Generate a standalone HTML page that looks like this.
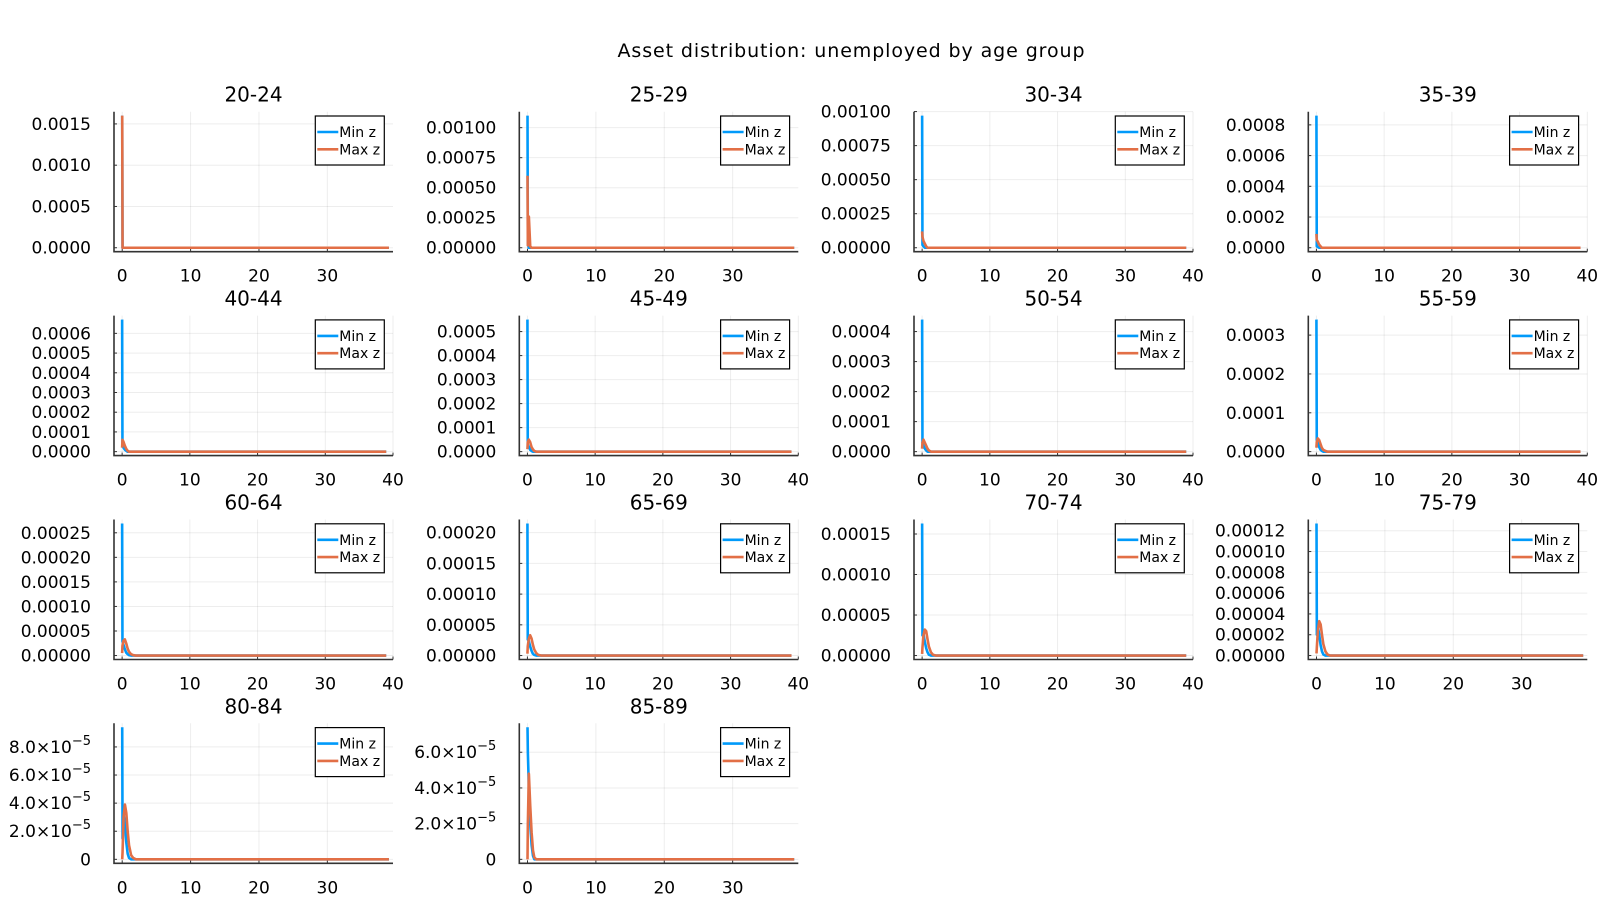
<!DOCTYPE html>
<html><head><meta charset="utf-8"><style>
html,body{margin:0;padding:0;background:#fff;}
svg{display:block;font-family:"DejaVu Sans","Liberation Sans",sans-serif;}
</style></head><body>
<svg id="fig" width="1600" height="900" viewBox="0 0 1600 900" xmlns="http://www.w3.org/2000/svg">
<rect width="1600" height="900" fill="#fff"/>
<text x="851" y="57" text-anchor="middle" font-size="19" textLength="467" fill="#000">Asset distribution: unemployed by age group</text>
</svg>
<script>
const xGrid = [0,0.05,0.2,0.4,0.6,0.8,1.0,1.3,1.6,2,3,5,10,20,30,39];
const panelTitles = ["20-24","25-29","30-34","35-39","40-44","45-49","50-54","55-59","60-64","65-69","70-74","75-79","80-84","85-89"];
const minZ = [
 [0.0016,0,0,0,0,0,0,0,0,0,0,0,0,0,0,0],
 [0.0011,0.00003,0,0,0,0,0,0,0,0,0,0,0,0,0,0],
 [0.00097,0.00002,0.00001,0,0,0,0,0,0,0,0,0,0,0,0,0],
 [0.00086,0.00001,0.000005,0,0,0,0,0,0,0,0,0,0,0,0,0],
 [0.00067,0.00003,0.00002,0.00001,0.000005,0,0,0,0,0,0,0,0,0,0,0],
 [0.00055,0.00003,0.00002,0.000008,0.000003,0,0,0,0,0,0,0,0,0,0,0],
 [0.00044,0.00003,0.00002,0.00001,0.000004,0,0,0,0,0,0,0,0,0,0,0],
 [0.00034,0.00003,0.000022,0.000012,0.000005,0.000002,0,0,0,0,0,0,0,0,0,0],
 [0.000269,0.000029,0.000022,0.000013,0.000006,0.000003,0.000001,0,0,0,0,0,0,0,0,0],
 [0.000215,0.000026,0.000024,0.000015,0.000008,0.000003,0.000001,0,0,0,0,0,0,0,0,0],
 [0.000163,0.000025,0.000026,0.000017,0.000009,0.000004,0.000001,0,0,0,0,0,0,0,0,0],
 [0.000127,0.00002,0.000028,0.00002,0.00001,0.000004,0.000001,0,0,0,0,0,0,0,0,0],
 [0.000094,0.000015,0.000033,0.000025,0.000012,0.000004,0.000001,0,0,0,0,0,0,0,0,0],
 [0.000074,0.00006,0.00004,0.00002,0.000008,0.000002,0,0,0,0,0,0,0,0,0,0]
];
const maxZ = [
 [0.0016,0,0,0,0,0,0,0,0,0,0,0,0,0,0,0],
 [0.0006,0.00002,0.00026,0.00001,0,0,0,0,0,0,0,0,0,0,0,0],
 [0.00012,0.00008,0.00005,0.00003,0.00001,0,0,0,0,0,0,0,0,0,0,0],
 [0.00009,0.00005,0.00004,0.00002,0.00001,0,0,0,0,0,0,0,0,0,0,0],
 [0.00002,0.00006,0.00005,0.00003,0.000015,0.000005,0,0,0,0,0,0,0,0,0,0],
 [0.00001,0.00004,0.00005,0.00004,0.00002,0.00001,0.000003,0,0,0,0,0,0,0,0,0],
 [0.00001,0.00003,0.00004,0.00003,0.00002,0.00001,0.000004,0,0,0,0,0,0,0,0,0],
 [0.00001,0.000025,0.000034,0.00003,0.00002,0.00001,0.000005,0.000002,0,0,0,0,0,0,0,0],
 [0.000005,0.00002,0.00003,0.000033,0.000025,0.000015,0.000008,0.000003,0.000001,0,0,0,0,0,0,0],
 [0.000003,0.000015,0.000027,0.000033,0.000028,0.000018,0.00001,0.000004,0.000001,0,0,0,0,0,0,0],
 [0.000002,0.00001,0.000025,0.000032,0.00003,0.00002,0.000011,0.000004,0.000001,0,0,0,0,0,0,0],
 [0.000002,0.000008,0.000024,0.000033,0.00003,0.00002,0.000011,0.000004,0.000001,0,0,0,0,0,0,0],
 [0,0.000005,0.00003,0.000039,0.000033,0.00002,0.00001,0.000003,0.000001,0,0,0,0,0,0,0],
 [0,0.00002,0.000048,0.00003,0.000015,0.000005,0.000001,0,0,0,0,0,0,0,0,0]
];
const yTickValues = [
 [0,0.0005,0.001,0.0015],
 [0,0.00025,0.0005,0.00075,0.001],
 [0,0.00025,0.0005,0.00075,0.001],
 [0,0.0002,0.0004,0.0006,0.0008],
 [0,0.0001,0.0002,0.0003,0.0004,0.0005,0.0006],
 [0,0.0001,0.0002,0.0003,0.0004,0.0005],
 [0,0.0001,0.0002,0.0003,0.0004],
 [0,0.0001,0.0002,0.0003],
 [0,0.00005,0.0001,0.00015,0.0002,0.00025],
 [0,0.00005,0.0001,0.00015,0.0002],
 [0,0.00005,0.0001,0.00015],
 [0,0.00002,0.00004,0.00006,0.00008,0.0001,0.00012],
 [0,0.00002,0.00004,0.00006,0.00008],
 [0,0.00002,0.00004,0.00006]
];
const yTickLabels = [
 ["0.0000","0.0005","0.0010","0.0015"],
 ["0.00000","0.00025","0.00050","0.00075","0.00100"],
 ["0.00000","0.00025","0.00050","0.00075","0.00100"],
 ["0.0000","0.0002","0.0004","0.0006","0.0008"],
 ["0.0000","0.0001","0.0002","0.0003","0.0004","0.0005","0.0006"],
 ["0.0000","0.0001","0.0002","0.0003","0.0004","0.0005"],
 ["0.0000","0.0001","0.0002","0.0003","0.0004"],
 ["0.0000","0.0001","0.0002","0.0003"],
 ["0.00000","0.00005","0.00010","0.00015","0.00020","0.00025"],
 ["0.00000","0.00005","0.00010","0.00015","0.00020"],
 ["0.00000","0.00005","0.00010","0.00015"],
 ["0.00000","0.00002","0.00004","0.00006","0.00008","0.00010","0.00012"],
 ["0","2.0|-5","4.0|-5","6.0|-5","8.0|-5"],
 ["0","2.0|-5","4.0|-5","6.0|-5"]
];
const xTickValues = [0,10,20,30,40];
const xMaxLimits = [39.6,39.6,40,40, 40,40,40,40, 40,40,40,39.6, 39.6,39.6];
const seriesNames = ["Min z","Max z"];

const NS = "http://www.w3.org/2000/svg";
const svg = document.getElementById("fig");
const colLeft = [114,519.3,914,1308.3];
const rowTop = [111.7,315.6,519.5,723.3];
const PW = 279, PH = 140;
const colors = ["#009AFA","#E26F46"];
function mk(tag, attrs, parent){
  const e = document.createElementNS(NS, tag);
  for (const k in attrs) e.setAttribute(k, attrs[k]);
  (parent||svg).appendChild(e); return e;
}
panelTitles.forEach((title, i) => {
  const L = colLeft[i%4], T = rowTop[Math.floor(i/4)];
  const g = mk("g", {});
  
  
  const peak = Math.max(...minZ[i], ...maxZ[i]);
  const y0 = -0.03*peak, y1 = 1.03*peak;
  const x0 = -1.2, x1 = xMaxLimits[i];
  const sx = v => L + (v-x0)/(x1-x0)*PW;
  const sy = v => T + PH - (v-y0)/(y1-y0)*PH;
  xTickValues.filter(v => v <= x1).forEach(v => {
    const gl = mk("line", {x1:sx(v),x2:sx(v),y1:T,y2:T+PH,stroke:"#000","stroke-opacity":0.07,"stroke-width":1}, g);
    
    
  });
  yTickValues[i].forEach(v => {
    const gl = mk("line", {x1:L,x2:L+PW,y1:sy(v),y2:sy(v),stroke:"#000","stroke-opacity":0.07,"stroke-width":1}, g);
    
    
  });
  const ax = mk("path", {d:`M${L},${T} V${T+PH} H${L+PW}`, fill:"none", stroke:"#333", "stroke-width":1.6}, g);
  
  
  xTickValues.filter(v => v <= x1).forEach(v => {
    mk("line", {x1:sx(v),x2:sx(v),y1:T+PH,y2:T+PH-3,stroke:"#333","stroke-width":1}, g);
    const t = mk("text", {x:sx(v), y:T+PH+30, "text-anchor":"middle", "font-size":17, fill:"#000"}, g);
    t.textContent = v;
    
    
  });
  yTickValues[i].forEach((v, k) => {
    mk("line", {x1:L,x2:L+3,y1:sy(v),y2:sy(v),stroke:"#333","stroke-width":1}, g);
    const lab = yTickLabels[i][k];
    const t = mk("text", {x:L-23, y:sy(v)+6, "text-anchor":"end", "font-size":17, fill:"#000"}, g);
    
    
    if (lab.includes("|")) {
      const [m, e] = lab.split("|");
      const a = mk("tspan", {}, t); a.textContent = m + "×10";
      const b = mk("tspan", {dy:-8, "font-size":13}, t); b.textContent = e.replace("-", "−");
    } else t.textContent = lab;
  });
  [minZ[i], maxZ[i]].forEach((vals, s) => {
    const d = vals.map((v, k) => (k ? "L" : "M") + sx(xGrid[k]).toFixed(2) + "," + sy(v).toFixed(2)).join(" ");
    const p = mk("path", {d, fill:"none", stroke:colors[s], "stroke-width":2.6, "stroke-linejoin":"round"}, g);
    
    
  });
  const tt = mk("text", {x:L+PW/2, y:T-10, "text-anchor":"middle", "font-size":20, fill:"#000"}, g);
  tt.textContent = title;
  
  
  const lg = mk("g", {}, g);
  
  
  const lx = L+PW-8.7-69, ly = T+4.3;
  mk("rect", {x:lx, y:ly, width:69, height:49, fill:"#fff", stroke:"#000", "stroke-width":1.2}, lg);
  seriesNames.forEach((n, s) => {
    const yy = ly + 16 + s*17.3;
    mk("line", {x1:lx+2, x2:lx+23, y1:yy, y2:yy, stroke:colors[s], "stroke-width":2.6}, lg);
    const t = mk("text", {x:lx+24, y:yy+5, "font-size":14, fill:"#000"}, lg);
    t.textContent = n;
    
    
  });
});
</script>
</body></html>
